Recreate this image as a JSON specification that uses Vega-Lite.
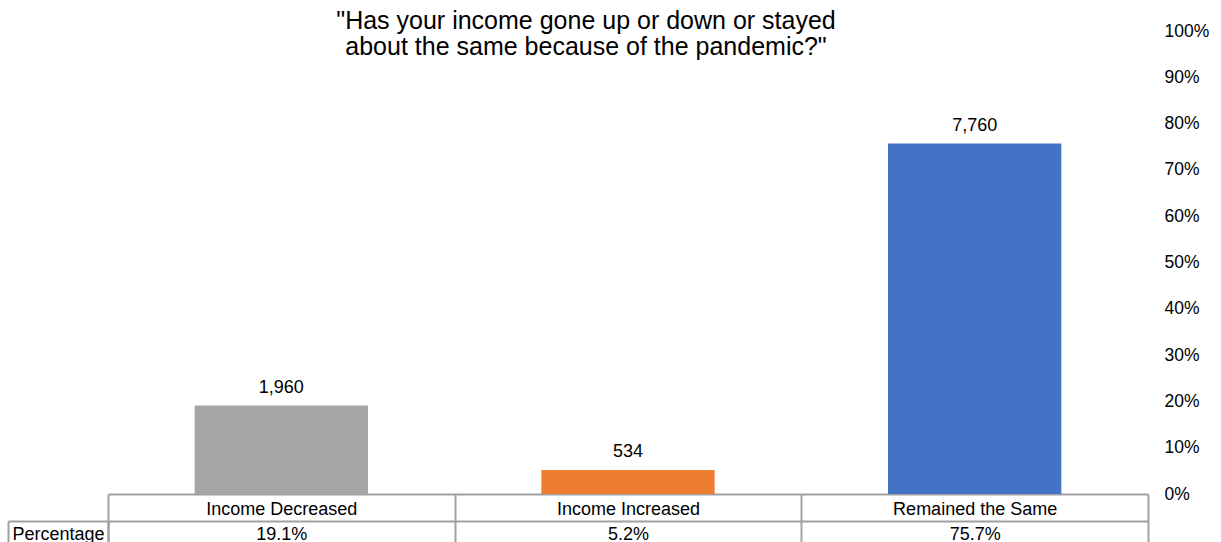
{
  "$schema": "https://vega.github.io/schema/vega-lite/v6.json",
  "width": 1040,
  "height": 463,
  "autosize": {"type": "none"},
  "padding": {"left": 108, "top": 31, "right": 73, "bottom": 48},
  "config": {
    "font": "Liberation Sans",
    "view": {"stroke": null},
    "axis": {"labelColor": "#000000", "titleColor": "#000000", "labelFont": "Liberation Sans", "titleFont": "Liberation Sans"}
  },
  "title": {
    "text": ["\"Has your income gone up or down or stayed", "about the same because of the pandemic?\""],
    "anchor": "middle",
    "frame": "group",
    "fontSize": 25,
    "fontWeight": "normal",
    "color": "#000000",
    "lineHeight": 26,
    "baseline": "alphabetic",
    "offset": 0,
    "dx": -42,
    "dy": 58
  },
  "data": {
    "values": [
      {"Response": "Income Decreased", "Count": 1960, "Pct": 0.191, "PctLabel": "19.1%"},
      {"Response": "Income Increased", "Count": 534, "Pct": 0.052, "PctLabel": "5.2%"},
      {"Response": "Remained the Same", "Count": 7760, "Pct": 0.757, "PctLabel": "75.7%"}
    ]
  },
  "resolve": {"scale": {"x": "independent"}, "axis": {"x": "independent"}},
  "layer": [
    {
      "mark": {"type": "bar", "width": {"band": 0.5}},
      "encoding": {
        "x": {
          "field": "Response", "type": "nominal", "sort": null,
          "scale": {"paddingInner": 0, "paddingOuter": 0},
          "axis": {
            "orient": "bottom", "title": null, "labelAngle": 0,
            "domainColor": "#A0A0A0", "domainWidth": 2,
            "tickBand": "extent", "tickSize": 27, "tickColor": "#A0A0A0", "tickWidth": 2,
            "labelFontSize": 18, "labelPadding": -12, "labelBaseline": "middle"
          }
        },
        "y": {
          "field": "Pct", "type": "quantitative",
          "scale": {"domain": [0, 1]},
          "axis": {
            "orient": "right", "title": null, "format": ".0%",
            "values": [0, 0.1, 0.2, 0.3, 0.4, 0.5, 0.6, 0.7, 0.8, 0.9, 1],
            "domain": false, "ticks": false, "grid": false,
            "labelAlign": "left", "labelPadding": 16, "labelFontSize": 17.5
          }
        },
        "color": {
          "field": "Response", "type": "nominal", "legend": null,
          "scale": {"domain": ["Income Decreased", "Income Increased", "Remained the Same"], "range": ["#A5A5A5", "#ED7D31", "#4472C4"]}
        }
      }
    },
    {
      "mark": {"type": "text", "baseline": "alphabetic", "dy": -13, "fontSize": 18, "color": "#000000"},
      "encoding": {
        "x": {
          "field": "PctLabel", "type": "nominal", "sort": null,
          "scale": {"paddingInner": 0, "paddingOuter": 0},
          "axis": {
            "orient": "bottom", "offset": 27, "labelAngle": 0, "title": null,
            "domainColor": "#A0A0A0", "domainWidth": 2,
            "tickBand": "extent", "tickSize": 27, "tickColor": "#A0A0A0", "tickWidth": 2,
            "labelFontSize": 18, "labelPadding": -14, "labelBaseline": "middle"
          }
        },
        "y": {"field": "Pct", "type": "quantitative"},
        "text": {"field": "Count", "type": "quantitative", "format": ","}
      }
    },
    {
      "data": {"values": [{"RowHeader": "Percentage"}]},
      "mark": {"type": "text", "opacity": 0},
      "encoding": {
        "x": {
          "field": "RowHeader", "type": "nominal",
          "scale": {"range": [-100, 0], "paddingInner": 0, "paddingOuter": 0},
          "axis": {
            "orient": "bottom", "offset": 27, "labelAngle": 0, "title": null,
            "domainColor": "#A0A0A0", "domainWidth": 2,
            "tickBand": "extent", "tickSize": 27, "tickColor": "#A0A0A0", "tickWidth": 2,
            "labelFontSize": 18, "labelPadding": -14, "labelBaseline": "middle"
          }
        },
        "text": {"field": "RowHeader", "type": "nominal"}
      }
    }
  ]
}
